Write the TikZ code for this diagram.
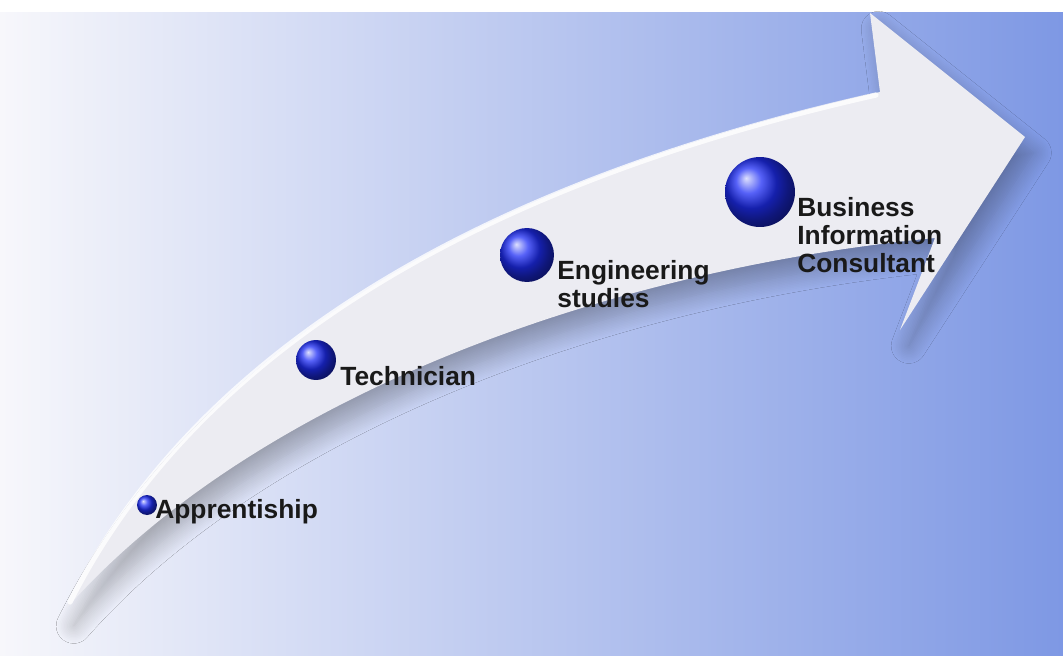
\documentclass[tikz,border=0pt]{standalone}
\usepackage{fontspec}
\setmainfont{Liberation Sans}
\usetikzlibrary{positioning,shadows.blur}

\definecolor{bgblue}{RGB}{126,152,228}
\definecolor{bglight}{RGB}{247,247,251}
\definecolor{arrowgray}{RGB}{236,236,242}
\definecolor{dotblue}{RGB}{30,45,245}

\tikzset{
  ball/.style={circle,shading=ball,ball color=dotblue,inner sep=0pt},
  lbl/.style={font=\fontsize{15}{16}\selectfont\bfseries,text=black!90,align=left,inner sep=0pt,anchor=west},
}

\begin{document}
\begin{tikzpicture}[x=0.02cm,y=-0.02cm]
\useasboundingbox (0,0) rectangle (1063,656);
% background
\shade[left color=bglight,right color=bgblue] (0,0) rectangle (1063,656);
\fill[white] (0,0) rectangle (1063,12);
% the big arrow
\fill[arrowgray,blur shadow={shadow xshift=5pt,shadow yshift=-9pt,shadow blur radius=10pt,shadow blur steps=12,shadow opacity=28}]
  (65,610) .. controls (170,400) and (400,200) .. (880,92) -- (870,13) -- (1025,137)
  -- (900,330) -- (935,238) .. controls (600,270) and (250,400) .. cycle;
\draw[white,line width=3pt,line cap=round,opacity=.8] (70,602) .. controls (172,400) and (400,202) .. (876,95);

% steps
\node (appr) [ball,minimum size=0.4cm] at (147,505) {};
\node (tech) [ball,minimum size=0.8cm] at (316,360) {};
\node (eng) [ball,minimum size=1.08cm] at (527,255) {};
\node (bus) [ball,minimum size=1.4cm] at (760,192) {};

\node (apprl) [lbl] at (155,512) {Apprentiship};
\node (techl) [lbl] at (340,376) {Technician};
\node (engl) [lbl] at (557,284) {Engineering\\studies};
\node (busl) [lbl] at (797,235) {Business\\Information\\Consultant};
\end{tikzpicture}
\end{document}
